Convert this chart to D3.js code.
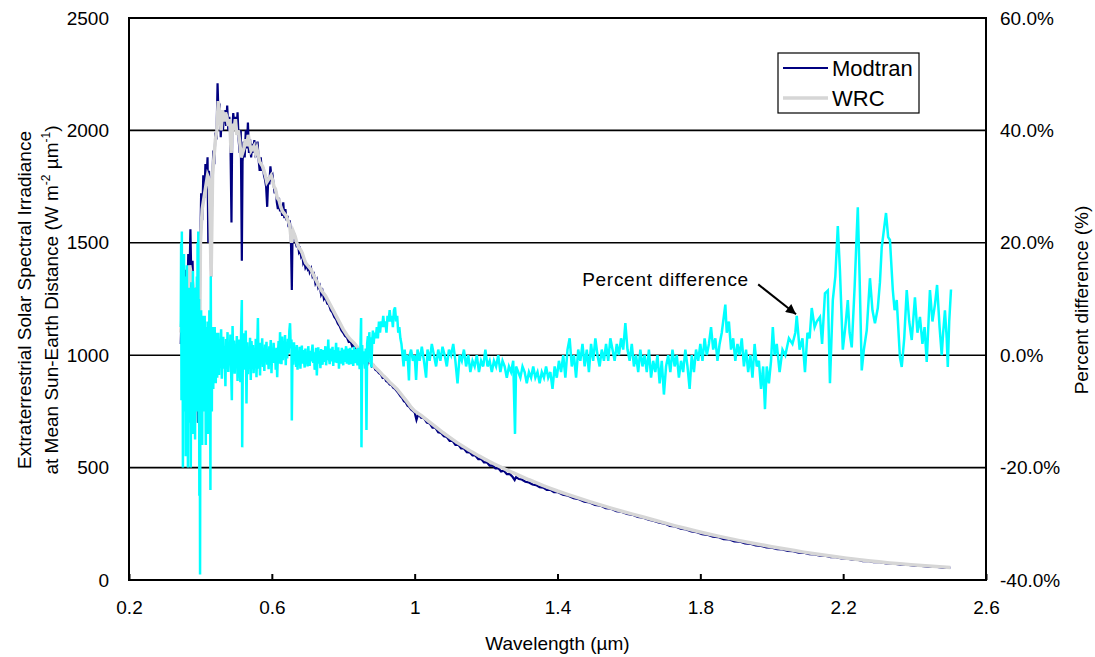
<!DOCTYPE html>
<html>
<head>
<meta charset="utf-8">
<script src="https://cdn.jsdelivr.net/npm/d3@7"></script>
<style>
  body { margin: 0; background: #fff; }
  text { font-family: "Liberation Sans", Arial, sans-serif; fill: #000; }
</style>
</head>
<body>
<div id="chart"></div>
<script>
// wavelength (um), irradiance (W m-2 um-1)
const modtran = [
  [0.345,1050],[0.348,1250],[0.351,1100],[0.354,1300],[0.357,1180],[0.360,1380],[0.363,1250],[0.366,1450],[0.369,1320],[0.372,1560],
  [0.375,1300],[0.378,1420],[0.381,1150],[0.384,1300],[0.387,1050],[0.390,1200],[0.393,700],[0.395,1250],[0.397,750],[0.399,1400],
  [0.402,1720],[0.405,1600],[0.408,1800],[0.411,1700],[0.414,1850],[0.417,1780],[0.420,1880],[0.422,1500],[0.424,1820],[0.427,1700],
  [0.430,1350],[0.433,1750],[0.436,1910],[0.439,1850],[0.442,1990],[0.445,1960],[0.448,2210],[0.451,2050],[0.454,2120],[0.457,1970],
  [0.460,2080],[0.463,2000],[0.466,2060],[0.469,2090],[0.472,2020],[0.475,2110],[0.478,2000],[0.481,2060],[0.484,1960],[0.487,1590],
  [0.489,2000],[0.492,2077],[0.495,2020],[0.498,2060],[0.501,1990],[0.504,2080],[0.507,1960],[0.510,1900],[0.513,2000],[0.516,1420],
  [0.518,1860],[0.521,1950],[0.524,1880],[0.527,2000],[0.530,1920],[0.533,2035],[0.536,1900],[0.539,1960],[0.542,1880],[0.545,1940],
  [0.548,1900],[0.551,1957],[0.554,1880],[0.557,1930],[0.560,1950],[0.563,1870],[0.566,1820],[0.569,1880],[0.572,1820],[0.575,1840],
  [0.578,1800],[0.581,1780],[0.584,1750],[0.587,1660],[0.590,1790],[0.593,1760],[0.596,1840],[0.599,1790],[0.602,1800],[0.605,1760],
  [0.608,1720],[0.611,1740],[0.614,1680],[0.617,1650],[0.620,1700],[0.623,1640],[0.626,1660],[0.629,1620],[0.632,1680],[0.635,1610],
  [0.638,1650],[0.641,1600],[0.644,1620],[0.647,1570],[0.650,1600],[0.653,1560],[0.656,1290],[0.658,1540],[0.661,1520],[0.664,1540],
  [0.667,1500],[0.670,1480],[0.673,1500],[0.676,1460],[0.679,1470],[0.682,1440],[0.685,1450],[0.688,1410],[0.691,1420],[0.694,1390],
  [0.697,1400],[0.700,1385],[0.703,1400],[0.706,1370],[0.710,1385],[0.714,1350],[0.718,1360],[0.722,1320],[0.726,1335],[0.730,1300],
  [0.734,1310],[0.738,1270],[0.742,1285],[0.746,1250],[0.750,1260],[0.755,1230],[0.760,1225],[0.765,1200],[0.770,1190],[0.775,1170],
  [0.780,1160],[0.785,1140],[0.790,1130],[0.795,1110],[0.800,1100],[0.805,1085],[0.810,1080],[0.815,1060],[0.820,1065],[0.825,1040],
  [0.830,1045],[0.835,1030],[0.840,1025],[0.845,1010],[0.850,960],[0.853,1000],[0.856,990],[0.860,985],[0.866,950],[0.870,980],
  [0.875,970],[0.880,950],[0.885,955],[0.890,935],[0.895,930],[0.900,920],[0.905,915],[0.910,900],[0.915,905],[0.920,885],
  [0.925,880],[0.930,870],[0.935,868],[0.940,855],[0.945,850],[0.950,840],[0.955,830],[0.960,818],[0.965,810],[0.970,795],
  [0.975,790],[0.980,775],[0.985,770],[0.990,758],[0.995,752],[1.000,745],[1.005,712],[1.010,738],[1.018,722],[1.026,720],
  [1.034,700],[1.042,697],[1.050,678],[1.058,678],[1.066,657],[1.074,654],[1.082,639],[1.090,636],[1.098,619],[1.106,619],
  [1.114,601],[1.122,602],[1.130,585],[1.138,585],[1.146,569],[1.154,568],[1.162,554],[1.170,554],[1.178,538],[1.186,539],
  [1.194,523],[1.202,524],[1.210,509],[1.218,510],[1.226,497],[1.234,498],[1.242,483],[1.250,486],[1.258,471],[1.266,472],
  [1.274,459],[1.280,445],[1.284,458],[1.292,449],[1.300,447],[1.310,437],[1.320,434],[1.330,425],[1.340,422],[1.350,413],
  [1.360,411],[1.370,401],[1.380,401],[1.390,391],[1.400,391],[1.415,380],[1.430,375],[1.445,364],[1.460,359],[1.475,348],
  [1.490,345],[1.505,334],[1.520,331],[1.535,320],[1.550,317],[1.565,306],[1.580,303],[1.595,294],[1.610,290],[1.625,281],
  [1.640,277],[1.655,268],[1.670,263],[1.685,255],[1.700,251],[1.715,241],[1.730,238],[1.745,228],[1.760,225],[1.775,216],
  [1.790,213],[1.805,204],[1.820,201],[1.835,193],[1.850,191],[1.865,182],[1.880,181],[1.895,172],[1.910,171],[1.925,163],
  [1.940,161],[1.955,154],[1.970,152],[1.985,145],[2.000,144],[2.015,137],[2.030,136],[2.045,129],[2.060,128],[2.075,122],
  [2.090,121],[2.105,115],[2.120,114],[2.135,108],[2.150,108],[2.165,102],[2.180,102],[2.195,96],[2.210,96],[2.225,90],
  [2.240,90],[2.255,84],[2.270,85],[2.285,79],[2.300,80],[2.320,74],[2.340,74],[2.360,68],[2.380,68],[2.400,63],
  [2.420,63],[2.440,58],[2.460,59],[2.480,54],[2.500,55]
];

const wrc = [
  [0.345,1100],[0.350,1200],[0.355,1150],[0.360,1300],[0.365,1250],[0.370,1400],[0.375,1350],[0.380,1300],[0.385,1150],[0.390,1100],
  [0.393,800],[0.397,850],[0.400,1500],[0.405,1650],[0.410,1700],[0.415,1750],[0.420,1800],[0.425,1780],[0.430,1350],[0.434,1800],
  [0.438,1880],[0.442,1960],[0.446,2000],[0.450,2130],[0.454,2080],[0.458,2000],[0.462,2090],[0.466,2040],[0.470,2080],[0.474,2060],
  [0.478,2020],[0.482,2050],[0.486,1900],[0.490,2030],[0.494,2000],[0.498,2050],[0.502,1980],[0.506,2000],[0.510,1950],[0.514,1880],
  [0.518,1900],[0.522,1920],[0.526,1960],[0.530,1930],[0.534,1980],[0.538,1940],[0.542,1910],[0.546,1920],[0.550,1930],[0.554,1900],
  [0.558,1920],[0.562,1890],[0.566,1860],[0.570,1850],[0.574,1840],[0.578,1820],[0.582,1800],[0.586,1770],[0.590,1780],[0.594,1790],
  [0.598,1800],[0.602,1780],[0.606,1750],[0.610,1740],[0.615,1700],[0.620,1690],[0.625,1660],[0.630,1640],[0.635,1630],[0.640,1620],
  [0.645,1600],[0.650,1580],[0.655,1500],[0.660,1550],[0.665,1530],[0.670,1500],[0.675,1480],[0.680,1470],[0.685,1455],[0.690,1430],
  [0.695,1410],[0.700,1400],[0.710,1380],[0.720,1345],[0.730,1315],[0.740,1285],[0.750,1265],[0.760,1235],[0.770,1205],[0.780,1175],
  [0.790,1145],[0.800,1115],[0.810,1090],[0.820,1070],[0.830,1055],[0.840,1035],[0.850,1010],[0.860,995],[0.870,985],[0.880,962],
  [0.890,945],[0.900,930],[0.910,912],[0.920,897],[0.930,880],[0.940,865],[0.950,850],[0.960,830],[0.970,810],[0.980,790],
  [0.990,768],[1.000,752],[1.020,730],[1.040,705],[1.060,680],[1.080,655],[1.100,632],[1.120,610],[1.140,590],[1.160,570],
  [1.180,552],[1.200,535],[1.220,518],[1.240,503],[1.260,488],[1.280,474],[1.300,460],[1.320,446],[1.340,433],[1.360,420],
  [1.380,408],[1.400,396],[1.430,380],[1.460,364],[1.490,349],[1.520,334],[1.550,320],[1.580,306],[1.610,293],[1.640,280],
  [1.670,267],[1.700,254],[1.730,241],[1.760,229],[1.790,217],[1.820,206],[1.850,195],[1.880,185],[1.910,175],[1.940,166],
  [1.970,157],[2.000,148],[2.030,140],[2.060,132],[2.090,124],[2.120,117],[2.150,110],[2.180,103],[2.210,97],[2.240,91],
  [2.270,86],[2.300,81],[2.330,76],[2.360,72],[2.390,68],[2.420,64],[2.450,61],[2.480,58],[2.500,56]
];

// wavelength (um), percent difference (%)
const pctDiff = [
  [0.345,5],[0.346,20],[0.347,-8],[0.348,22],[0.349,-3],[0.350,12],[0.351,-20],[0.352,15],[0.353,2],[0.354,18],
  [0.355,-10],[0.356,10],[0.357,-5],[0.358,14],[0.359,-18],[0.360,8],[0.361,-2],[0.362,16],[0.363,-6],[0.364,6],
  [0.365,-20],[0.366,10],[0.367,-4],[0.368,12],[0.369,-12],[0.370,4],[0.371,-6],[0.372,9],[0.373,-20],[0.374,3],
  [0.375,13],[0.376,-8],[0.377,5],[0.378,-14],[0.379,15],[0.380,0],[0.381,-10],[0.382,8],[0.383,-4],[0.384,12],
  [0.385,-15],[0.386,6],[0.387,-5],[0.388,10],[0.389,-2],[0.390,14],[0.391,-10],[0.392,20],[0.393,-5],[0.394,22],
  [0.395,-12],[0.396,10],[0.397,-25],[0.398,4],[0.399,-39],[0.400,3],[0.401,-12],[0.402,8],[0.403,-6],[0.404,5],
  [0.405,-16],[0.406,7],[0.407,-5],[0.408,4],[0.409,-10],[0.410,6],[0.411,-3],[0.412,7],[0.413,-8],[0.414,3],
  [0.415,-16],[0.416,5],[0.417,-4],[0.418,3],[0.419,-8],[0.420,6],[0.421,-2],[0.422,-14],[0.423,4],[0.424,-6],
  [0.425,8],[0.426,-2],[0.427,5],[0.428,-24],[0.429,14],[0.430,-6],[0.431,3],[0.432,-10],[0.433,5],[0.434,-4],
  [0.435,4],[0.436,-6],[0.437,3],[0.438,-2],[0.440,5],[0.441,-3],[0.442,2],[0.443,-5],[0.444,4],[0.445,-1],
  [0.446,3],[0.447,-4],[0.448,2],[0.449,-2],[0.450,4],
  [0.452,-3.5],[0.454,2.1],[0.456,-1.2],[0.458,4.6],[0.460,-4.2],[0.462,0.8],[0.464,3.3],[0.466,-2.4],[0.468,1.6],[0.470,-5.5],
  [0.472,2.9],[0.474,-0.7],[0.476,4.1],[0.478,-3.0],[0.480,1.2],[0.482,-1.8],[0.484,3.7],[0.486,-2.9],[0.488,-8.0],[0.490,5.2],
  [0.492,-0.4],[0.494,2.6],[0.496,-3.3],[0.498,1.9],[0.500,-1.1],[0.502,3.4],[0.504,-4.6],[0.506,0.5],[0.508,2.8],[0.510,-2.2],
  [0.512,-4.8],[0.514,4.4],[0.516,9.8],[0.517,-16.4],[0.519,1.7],[0.521,-2.6],[0.523,3.9],[0.525,-0.9],[0.527,4.4],[0.529,-8.6],
  [0.531,2.3],[0.533,-3.4],[0.535,1.4],[0.537,-1.6],[0.539,3.1],[0.541,-4.4],[0.543,2.5],[0.545,-0.3],[0.547,1.8],[0.549,-3.2],
  [0.551,0.6],[0.553,-1.9],[0.555,2.9],[0.557,-3.9],[0.559,1.1],[0.561,6.6],[0.563,-2.4],[0.565,0.9],[0.567,-3.6],[0.569,2.2],
  [0.571,-1.3],[0.573,3.0],[0.575,-2.1],[0.577,0.4],[0.579,-2.8],[0.581,1.9],[0.583,-0.5],[0.585,2.4],[0.587,-1.7],[0.589,0.8],
  [0.591,-2.5],[0.593,1.6],[0.595,-0.2],[0.597,2.7],[0.599,-3.2],[0.601,1.0],[0.603,-1.4],[0.605,2.2],[0.607,-0.8],[0.609,0.5],
  [0.611,-2.6],[0.613,1.3],[0.615,-3.9],[0.617,0.2],[0.619,2.5],[0.621,-1.5],[0.623,4.1],[0.625,0.7],[0.627,-1.6],[0.629,3.3],
  [0.631,-0.9],[0.633,2.0],[0.635,-0.4],[0.637,3.6],[0.639,-1.8],[0.641,2.4],[0.643,-0.6],[0.645,2.9],[0.647,0.3],[0.649,4.3],
  [0.651,5.7],[0.653,1.2],[0.655,2.8],[0.656,-11.6],[0.658,1.9],[0.660,-1.7],[0.662,2.3],[0.664,-0.5],[0.666,1.4],[0.668,-2.1],
  [0.670,1.8],[0.672,-2.6],[0.674,0.6],[0.676,-1.3],[0.678,1.5],[0.680,-2.4],[0.682,0.3],[0.684,1.7],[0.686,-1.5],[0.688,0.9],
  [0.690,-0.8],[0.692,-2.2],[0.694,1.2],[0.696,-1.6],[0.698,0.4],[0.700,-2.0],[0.702,1.6],[0.704,-0.3],[0.706,-1.9],[0.708,0.8],
  [0.710,-1.1],[0.712,0.6],[0.714,1.9],[0.716,-1.4],[0.718,0.5],[0.720,-2.6],[0.722,-0.2],[0.724,1.3],[0.726,-3.6],[0.728,-0.6],
  [0.730,1.4],[0.732,-1.5],[0.734,0.7],[0.736,-2.3],[0.738,1.1],[0.740,-0.4],[0.742,-1.7],[0.744,0.9],[0.746,-1.2],[0.748,0.2],
  [0.750,1.6],[0.752,-1.8],[0.754,0.8],[0.756,-0.9],[0.758,2.8],[0.760,-0.5],[0.762,-1.6],[0.764,1.2],[0.766,-1.1],[0.768,0.4],
  [0.770,1.5],[0.772,-1.9],[0.774,0.9],[0.776,-1.3],[0.778,0.1],[0.780,2.2],[0.782,-1.4],[0.784,0.3],[0.786,1.4],[0.788,-2.4],
  [0.790,0.8],[0.792,-0.3],[0.794,-1.5],[0.796,1.3],[0.798,-0.6],[0.800,-1.8],[0.802,1.0],[0.804,-1.2],[0.806,0.6],[0.808,1.6],
  [0.810,-1.5],[0.812,-0.2],[0.814,1.2],[0.816,-1.7],[0.818,0.4],[0.820,1.3],[0.822,-1.6],[0.824,0.9],[0.826,-0.4],[0.828,-1.9],
  [0.830,1.5],[0.832,0.2],[0.834,-1.4],[0.836,1.1],[0.838,-0.7],[0.840,-1.8],[0.842,1.3],[0.844,-0.2],[0.846,-2.5],[0.848,0.9],
  [0.850,6.6],[0.851,-16.4],[0.853,1.8],[0.855,-1.6],[0.857,0.7],[0.859,-0.8],[0.861,-2.4],[0.863,1.2],[0.865,-13.3],[0.867,2.1],
  [0.869,3.4],[0.871,-1.3],[0.873,4.1],[0.875,-0.4],[0.877,3.2],[0.879,-2.2],[0.881,2.4],[0.883,4.4],[0.885,2],[0.888,4],
  [0.891,3],[0.894,5],[0.897,3],[0.900,6],[0.903,4],[0.906,6],[0.909,5],[0.912,7],[0.915,5],[0.918,6],
  [0.921,4],[0.924,7],[0.927,6],[0.930,8],[0.933,6],[0.936,7],[0.939,5],[0.942,8],[0.945,8.5],[0.948,6],
  [0.951,7],[0.954,4],[0.957,5],[0.960,3],[0.963,2],[0.966,0],[0.969,-2],[0.972,1],[0.975,-1],[0.978,0],
  [0.981,-1],[0.984,-4.5],[0.986,0],[0.990,1],[0.995,-1],[1.000,0],[1.004,-4.4],[1.008,1],[1.014,-1],[1.020,1.5],
  [1.026,-1],[1.032,-4],[1.036,1],[1.042,-1],[1.048,2],[1.054,0],[1.060,-2],[1.066,1],[1.072,-1],[1.078,1.5],
  [1.084,0],[1.090,-2],[1.096,1],[1.102,0],[1.108,2],[1.114,-1],[1.120,-5],[1.126,0],[1.132,-1],[1.138,1],
  [1.144,-2],[1.150,0],[1.156,-3],[1.162,-1],[1.168,-2],[1.174,0],[1.180,-3],[1.186,-1],[1.192,-2],[1.198,1],
  [1.204,-2],[1.210,-1],[1.216,-3],[1.222,-1],[1.228,-2],[1.234,0],[1.240,-3],[1.246,-1],[1.252,-2],[1.258,-4],
  [1.264,-2],[1.270,-3],[1.276,-1],[1.281,-14],[1.284,-2],[1.290,-3],[1.296,-4],[1.302,-2],[1.308,-3],[1.314,-5],
  [1.320,-3],[1.326,-4],[1.332,-2],[1.338,-4],[1.344,-3],[1.350,-5],[1.356,-3],[1.362,-4],[1.368,-2],[1.374,-4],
  [1.380,-3],[1.386,-6],[1.392,-2],[1.398,-4],[1.404,-1],[1.410,-3],[1.416,0],[1.422,-4],[1.428,1],[1.434,3],
  [1.440,-2],[1.446,0],[1.452,-4],[1.458,1],[1.464,-1],[1.470,2],[1.476,-2],[1.482,1],[1.488,-3],[1.494,2],
  [1.500,-1],[1.506,3],[1.512,0],[1.518,-2],[1.524,1],[1.530,-1],[1.536,2],[1.542,-1],[1.548,3],[1.554,1],
  [1.560,-1],[1.566,2],[1.572,0],[1.578,3],[1.584,1],[1.590,5.7],[1.596,1],[1.602,-1],[1.608,2],[1.614,-2],
  [1.620,0],[1.626,-3],[1.632,1],[1.638,-2],[1.644,0],[1.650,-3],[1.656,1],[1.662,-4],[1.668,-1],[1.674,-3],
  [1.680,0],[1.686,-5],[1.692,-1],[1.698,-7],[1.704,-2],[1.710,0],[1.716,-3],[1.722,1],[1.728,-2],[1.734,0],
  [1.740,-4],[1.746,-1],[1.752,-3],[1.758,1],[1.764,-2],[1.770,-6],[1.776,0],[1.782,-3],[1.788,1],[1.794,-1],
  [1.800,2],[1.806,-1],[1.812,3],[1.818,0],[1.824,2],[1.830,5],[1.836,1],[1.842,3],[1.848,-1],[1.854,2],
  [1.860,4],[1.866,7],[1.870,9],[1.874,4],[1.880,6],[1.886,1],[1.892,3],[1.898,-1],[1.904,2],[1.910,0],
  [1.916,3],[1.922,-2],[1.928,1],[1.934,-3],[1.940,0],[1.946,-4],[1.952,2],[1.958,-2],[1.964,-1],[1.970,-6],
  [1.976,-2],[1.981,-9.6],[1.986,-2],[1.992,-5],[1.998,-1],[2.003,5],[2.008,0],[2.014,2],[2.022,-3],[2.030,1],
  [2.038,0],[2.048,3],[2.058,2],[2.066,4],[2.070,7],[2.078,1],[2.086,3],[2.093,-3],[2.100,4],[2.106,3],
  [2.112,8.4],[2.120,5],[2.126,6],[2.135,6.8],[2.141,2],[2.149,11],[2.157,11.5],[2.163,-5],[2.171,9.8],[2.178,14],
  [2.185,23],[2.191,15],[2.199,1],[2.206,5],[2.213,9.8],[2.218,4],[2.224,1.4],[2.232,12],[2.238,21.7],[2.241,26.3],
  [2.246,14],[2.252,-2.7],[2.258,1],[2.266,4.4],[2.275,13.7],[2.282,8],[2.289,5.7],[2.297,8.4],[2.303,13],[2.308,19.2],
  [2.320,25.3],[2.326,21],[2.331,20.5],[2.339,11.6],[2.344,8],[2.350,9.8],[2.356,3],[2.359,-0.4],[2.364,-2.1],[2.371,3],
  [2.378,11.6],[2.385,6],[2.392,2.7],[2.401,10.3],[2.408,4],[2.415,6.8],[2.422,2],[2.428,5],[2.434,-1.2],[2.443,11.6],
  [2.450,6],[2.457,9],[2.463,12.5],[2.470,5],[2.476,0],[2.480,4],[2.485,8],[2.490,3],[2.493,-2.1],[2.497,6],
  [2.502,11.7]
];

const xTicks = [0.2, 0.6, 1.0, 1.4, 1.8, 2.2, 2.6];
const yTicks = [0, 500, 1000, 1500, 2000, 2500];
const pctTicks = [-40, -20, 0, 20, 40, 60];
const seriesNames = ["Modtran", "WRC"];
const seriesColors = ["#000080", "#d6d6d6"];
// annotation: text end point and arrow tip, in data units (um, %)
const noteText = "Percent difference";
const noteFrom = [1.962, 12.6];
const noteTip = [2.068, 7.3];

const width = 1095, height = 657;
const svg = d3.select("#chart").append("svg")
  .attr("width", width)
  .attr("height", height);

const x = d3.scaleLinear().domain([0.2, 2.6]).range([129, 986]);
const y = d3.scaleLinear().domain([0, 2500]).range([580, 18]);
const y2 = d3.scaleLinear().domain([-40, 60]).range([580, 18]);

svg.append("defs").append("clipPath").attr("id", "plotclip")
  .append("rect")
  .attr("x", x(0.2)).attr("y", y(2500))
  .attr("width", x(2.6) - x(0.2)).attr("height", y(0) - y(2500));

// gridlines
svg.append("g").selectAll("line")
  .data(yTicks.filter(d => d > 0 && d < 2500))
  .join("line")
  .attr("x1", x(0.2)).attr("x2", x(2.6))
  .attr("y1", d => y(d)).attr("y2", d => y(d))
  .attr("stroke", "#000").attr("stroke-width", 1.6);

const plot = svg.append("g").attr("clip-path", "url(#plotclip)");

const lineW = d3.line().x(d => x(d[0])).y(d => y(d[1]));
const lineP = d3.line().x(d => x(d[0])).y(d => y2(d[1]));

plot.append("path").datum(modtran)
  .attr("d", lineW).attr("fill", "none")
  .attr("stroke", seriesColors[0]).attr("stroke-width", 2.2);

plot.append("path").datum(wrc)
  .attr("d", lineW).attr("fill", "none")
  .attr("stroke", seriesColors[1]).attr("stroke-width", 3.5);

plot.append("path").datum(pctDiff)
  .attr("d", lineP).attr("fill", "none")
  .attr("stroke", "#00ffff").attr("stroke-width", 2.5);

// frame
svg.append("rect")
  .attr("x", x(0.2)).attr("y", y(2500))
  .attr("width", x(2.6) - x(0.2)).attr("height", y(0) - y(2500))
  .attr("fill", "none").attr("stroke", "#000").attr("stroke-width", 2);

// axes
const fmtX = d => String(+d.toFixed(1));
const xAxis = svg.append("g")
  .attr("transform", `translate(0,${y(0)})`)
  .call(d3.axisBottom(x).tickValues(xTicks).tickFormat(fmtX).tickSizeInner(-6).tickSizeOuter(0).tickPadding(21));
xAxis.select(".domain").remove();
xAxis.selectAll("line").attr("stroke", "#000").attr("stroke-width", 2);

const yAxis = svg.append("g")
  .attr("transform", `translate(${x(0.2)},0)`)
  .call(d3.axisLeft(y).tickValues(yTicks).tickFormat(d3.format("d")).tickSize(0).tickPadding(20));
yAxis.select(".domain").remove();

const y2Axis = svg.append("g")
  .attr("transform", `translate(${x(2.6)},0)`)
  .call(d3.axisRight(y2).tickValues(pctTicks).tickFormat(d => d.toFixed(1) + "%").tickSize(0).tickPadding(14));
y2Axis.select(".domain").remove();

svg.selectAll(".tick text")
  .style("font-family", '"Liberation Sans", Arial, sans-serif')
  .style("font-size", "19px")
  .attr("fill", "#000");

// axis titles
svg.append("text")
  .attr("x", (x(0.2) + x(2.6)) / 2).attr("y", 650)
  .attr("text-anchor", "middle").style("font-size", "19px")
  .text("Wavelength (\u00b5m)");

const leftTitle = svg.append("text")
  .attr("transform", "translate(31,300) rotate(-90)")
  .attr("text-anchor", "middle").style("font-size", "19px");
leftTitle.append("tspan").attr("x", 0).attr("y", 0)
  .text("Extraterrestrial Solar Spectral Irradiance");
leftTitle.append("tspan").attr("x", 0).attr("y", 27)
  .text("at Mean Sun-Earth Distance (W m");
leftTitle.append("tspan").attr("dy", -8).style("font-size", "12px").text("-2");
leftTitle.append("tspan").attr("dy", 8).text(" \u00b5m");
leftTitle.append("tspan").attr("dy", -8).style("font-size", "12px").text("-1");
leftTitle.append("tspan").attr("dy", 8).text(")");

svg.append("text")
  .attr("transform", "translate(1088,300) rotate(-90)")
  .attr("text-anchor", "middle").style("font-size", "19px")
  .text("Percent difference (%)");

// legend
const legend = svg.append("g");
legend.append("rect")
  .attr("x", 778).attr("y", 53).attr("width", 141).attr("height", 60)
  .attr("fill", "#fff").attr("stroke", "#000").attr("stroke-width", 1.2);
const items = legend.selectAll("g.item").data(seriesNames).join("g")
  .attr("class", "item")
  .attr("transform", (d, i) => `translate(783,${68 + i * 30})`);
items.append("line")
  .attr("x1", 0).attr("x2", 45)
  .attr("stroke", (d, i) => seriesColors[i])
  .attr("stroke-width", (d, i) => i === 0 ? 2.2 : 3.5);
items.append("text")
  .attr("x", 49).attr("y", 8)
  .style("font-size", "22px")
  .text(d => d);

// annotation with arrow
svg.append("defs").append("marker")
  .attr("id", "arrowhead")
  .attr("viewBox", "0 0 10 10")
  .attr("refX", 10).attr("refY", 5)
  .attr("markerWidth", 13).attr("markerHeight", 10)
  .attr("markerUnits", "userSpaceOnUse")
  .attr("orient", "auto")
  .append("path").attr("d", "M0,0 L10,5 L0,10 Z").attr("fill", "#000");

svg.append("text")
  .attr("x", x(noteFrom[0]) - 10).attr("y", y2(noteFrom[1]) + 2)
  .attr("text-anchor", "end")
  .style("font-size", "19px")
  .attr("textLength", 166).attr("lengthAdjust", "spacing")
  .text(noteText);

svg.append("line")
  .attr("x1", x(noteFrom[0])).attr("y1", y2(noteFrom[1]))
  .attr("x2", x(noteTip[0])).attr("y2", y2(noteTip[1]))
  .attr("stroke", "#000").attr("stroke-width", 2)
  .attr("marker-end", "url(#arrowhead)");
</script>
</body>
</html>
